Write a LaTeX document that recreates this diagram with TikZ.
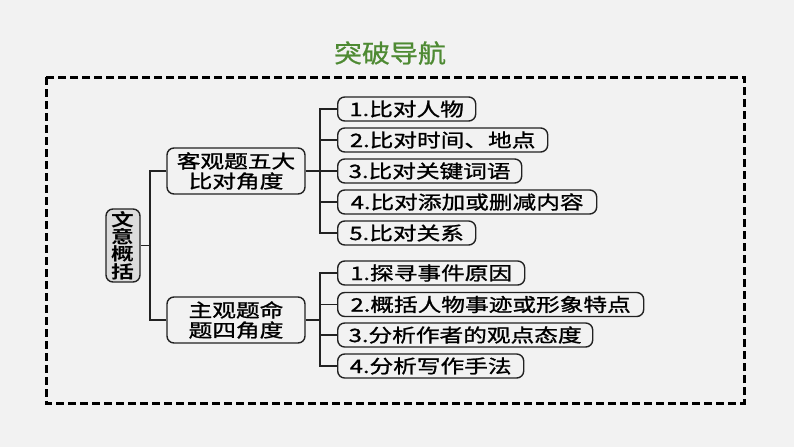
\documentclass[tikz,border=0pt]{standalone}
\usepackage{fontspec}
\newfontfamily\cjk[FakeStretch=1.28,FakeBold=1.2]{Noto Sans CJK SC}
\newfontfamily\cjkb[FakeStretch=1.3]{Noto Sans CJK SC Bold}
\newfontfamily\cjkt[FakeStretch=1.12,FakeBold=0.8]{Noto Sans CJK SC}
\definecolor{bg}{HTML}{F2F2F2}
\definecolor{ttl}{HTML}{4E8A33}
\definecolor{rootfill}{HTML}{DCDCDC}
\definecolor{ln}{HTML}{222222}
\tikzset{
  box/.style={draw=ln, line width=1.4pt, rounded corners=7pt, fill=bg, inner sep=0pt,
    font=\cjk\fontsize{18.5}{20}\selectfont, text=black},
  leaf/.style={box, anchor=west, minimum height=24pt},
  mid/.style={box, minimum width=138pt, minimum height=46pt, align=center},
  conn/.style={draw=ln, line width=1.3pt},
  frame/.style={draw=black, line width=3pt, dash pattern=on 8pt off 4pt}
}
\begin{document}
\begin{tikzpicture}[x=1pt,y=-1pt]
\fill[bg] (0,0) rectangle (794,447);
\useasboundingbox (0,0) rectangle (794,447);
\node[font=\cjkt\fontsize{25}{27}\selectfont, text=ttl] (title) at (390,53) {突破导航};
\draw[frame] (46,77) rectangle (744,403);
% root
\node[box, fill=rootfill, minimum width=34pt, minimum height=73pt, align=center,
  font=\cjkb\fontsize{17.5}{16}\selectfont] (root) at (123,245.5) {文\\意\\概\\括};
% middle
\node[mid] (A) at (236,171) {客观题五大\\比对角度};
\node[mid] (B) at (236,320) {主观题命\\题四角度};
% top leaves
\node[leaf, minimum width=138pt] (a1) at (337,109) {1.比对人物};
\node[leaf, minimum width=210pt] (a2) at (337,140) {2.比对时间、地点};
\node[leaf, minimum width=184pt] (a3) at (337,171) {3.比对关键词语};
\node[leaf, minimum width=259pt] (a4) at (337,202) {4.比对添加或删减内容};
\node[leaf, minimum width=138pt] (a5) at (337,233) {5.比对关系};
% bottom leaves
\node[leaf, minimum width=187pt] (b1) at (337,273) {1.探寻事件原因};
\node[leaf, minimum width=306pt] (b2) at (337,304.5) {2.概括人物事迹或形象特点};
\node[leaf, minimum width=255pt] (b3) at (337,335) {3.分析作者的观点态度};
\node[leaf, minimum width=186pt] (b4) at (337,366) {4.分析写作手法};
% junctions
\coordinate (jr) at (150,245.5);
\coordinate (ja) at (320,171);
\coordinate (jb) at (320,320);
% connectors
\draw[conn] (root.east) -- (jr);
\draw[conn] (A.west) -| (jr);
\draw[conn] (B.west) -| (jr);
\draw[conn] (A.east) -- (ja);
\foreach \n in {a1,a2,a3,a4,a5} \draw[conn] (\n.west) -| (ja);
\draw[conn] (B.east) -- (jb);
\foreach \n in {b1,b2,b3,b4} \draw[conn] (\n.west) -| (jb);
\end{tikzpicture}
\end{document}
